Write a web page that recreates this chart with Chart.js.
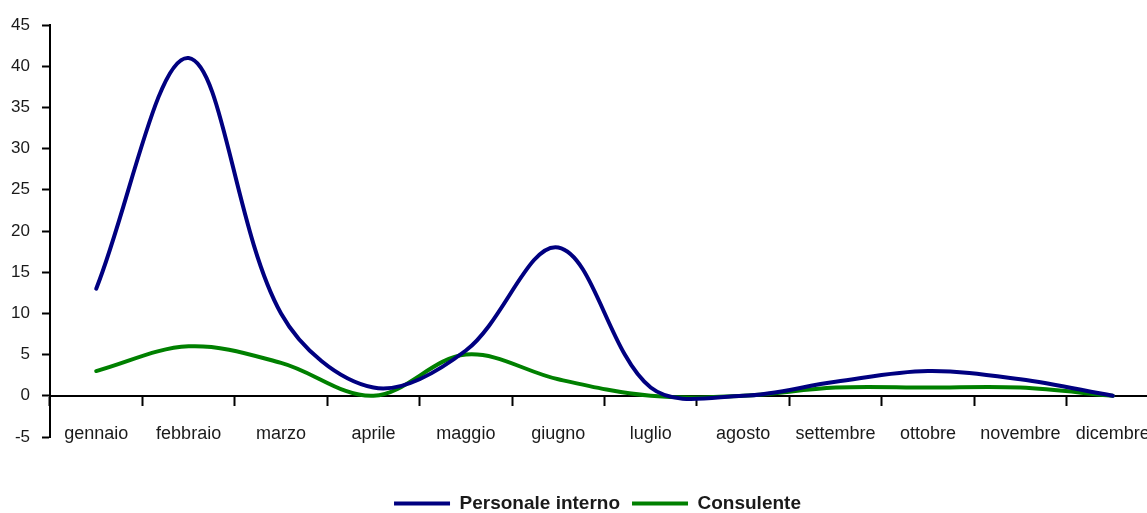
<!DOCTYPE html>
<html>
<head>
<meta charset="utf-8">
<script src="https://cdn.jsdelivr.net/npm/chart.js@4"></script>
<style>
  html, body { margin: 0; padding: 0; background: #fff; overflow: hidden; }
  #wrap { width: 1147px; height: 513px; overflow: hidden; }
  canvas { display: block; }
</style>
</head>
<body>
<div id="wrap"><canvas id="chart" width="1195" height="523"></canvas></div>
<script>
// Monthly values
const months = ["gennaio", "febbraio", "marzo", "aprile", "maggio", "giugno",
                "luglio", "agosto", "settembre", "ottobre", "novembre", "dicembre"];
const personaleInterno = [13, 41, 10, 1, 5.5, 18, 1, 0, 1.7, 3, 2, 0];
const consulente       = [3, 6, 4, 0, 5, 2, 0, 0, 1, 1, 1, 0];

const yMin = -5;
const yMax = 45;
const yStep = 5;

const textColor = "#1a1a1a";
const family = "'Liberation Sans', Arial, sans-serif";

new Chart(document.getElementById("chart"), {
  type: "line",
  data: {
    labels: months,
    datasets: [
      {
        label: "Personale interno",
        data: personaleInterno,
        borderColor: "#000080",
        borderWidth: 4,
        pointRadius: 0,
        tension: 0.35,
        borderCapStyle: "round",
        borderJoinStyle: "round",
        fill: false,
      },
      {
        label: "Consulente",
        data: consulente,
        borderColor: "#008000",
        borderWidth: 4,
        pointRadius: 0,
        tension: 0.35,
        borderCapStyle: "round",
        borderJoinStyle: "round",
        fill: false,
      }
    ]
  },
  options: {
    responsive: false,
    animation: false,
    devicePixelRatio: 1,
    layout: { padding: { left: 0, top: 25, right: 0, bottom: 0 } },
    scales: {
      x: {
        type: "category",
        position: { y: 0 },   // axis line sits on zero, like the original
        offset: true,
        grid: {
          offset: true,
          drawOnChartArea: false,
          drawTicks: true,
          tickLength: 9,
          tickWidth: 2,
          tickColor: "#000",
        },
        border: { display: true, color: "#000", width: 2 },
        ticks: {
          autoSkip: false,
          maxRotation: 0,
          color: textColor,
          font: { family, size: 18 },
          padding: 18,
        }
      },
      y: {
        min: yMin,
        max: yMax,
        afterFit(scale) { scale.width = 50; },
        grid: {
          drawOnChartArea: false,
          drawTicks: true,
          tickLength: 8,
          tickWidth: 2,
          tickColor: "#000",
        },
        border: { display: true, color: "#000", width: 2 },
        ticks: {
          stepSize: yStep,
          color: textColor,
          font: { family, size: 17 },
          padding: 12,
        }
      },
      // empty right-hand box, keeps the legend centred where the original has it
      yPad: {
        position: "right",
        display: true,
        afterFit(scale) { scale.width = 36; },
        grid: { display: false },
        border: { display: false },
        ticks: { display: false },
      }
    },
    plugins: {
      // empty title used as spacer between the plot and the legend
      title: {
        display: true,
        text: "",
        position: "bottom",
        weight: 500,
        padding: { top: 35, bottom: 0 },
        font: { size: 10, lineHeight: 1 },
      },
      legend: {
        display: true,
        position: "bottom",
        labels: {
          usePointStyle: true,
          pointStyle: "line",
          pointStyleWidth: 56,
          padding: 12,
          color: textColor,
          font: { family, size: 19, weight: "bold" },
        }
      },
      tooltip: { enabled: false }
    }
  }
});
</script>
</body>
</html>
